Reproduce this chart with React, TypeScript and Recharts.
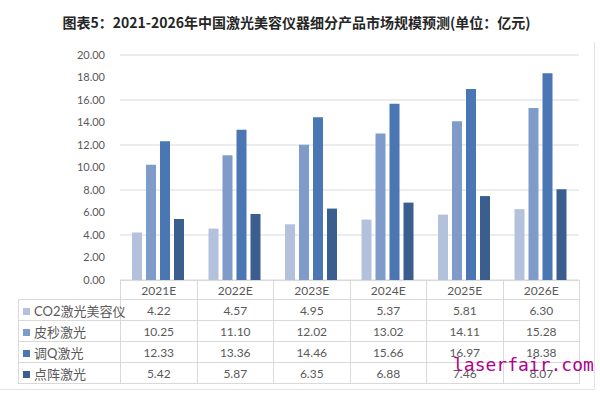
import React from 'react';
import { BarChart, Bar, XAxis, YAxis, CartesianGrid } from 'recharts';

const categories = ['2021E', '2022E', '2023E', '2024E', '2025E', '2026E'];
const co2 = [4.22, 4.57, 4.95, 5.37, 5.81, 6.3];
const picosecond = [10.25, 11.1, 12.02, 13.02, 14.11, 15.28];
const qSwitch = [12.33, 13.36, 14.46, 15.66, 16.97, 18.38];
const fractional = [5.42, 5.87, 6.35, 6.88, 7.46, 8.07];
const yTicks = [0, 2, 4, 6, 8, 10, 12, 14, 16, 18, 20];

const seriesList = [
  { key: 'co2', name: 'CO2激光美容仪', values: co2, color: '#b3c1dd' },
  { key: 'pico', name: '皮秒激光', values: picosecond, color: '#7e9bc9' },
  { key: 'q', name: '调Q激光', values: qSwitch, color: '#4a76b3' },
  { key: 'dot', name: '点阵激光', values: fractional, color: '#3a5f8f' },
];

const data = categories.map((c, i) => {
  const row: any = { name: c };
  seriesList.forEach((s) => {
    row[s.key] = s.values[i];
  });
  return row;
});

const textColor = '#595959';
const gridColor = '#d9d9d9';
const font = "Lato, 'Noto Sans CJK SC', sans-serif";

const cellStyle: React.CSSProperties = {
  border: `1px solid ${gridColor}`,
  textAlign: 'center',
  padding: 0,
  fontSize: 12,
  color: textColor,
};

export default function App() {
  return (
    <div style={{ position: 'absolute', left: 0, top: 0, width: 600, height: 398, background: '#fff', overflow: 'hidden', fontFamily: font }}>
      <div
        style={{
          position: 'absolute',
          left: 0,
          top: 12,
          width: 593,
          textAlign: 'center',
          fontFamily: "'Noto Sans CJK SC', sans-serif",
          fontWeight: 700,
          fontSize: 14,
          lineHeight: '20px',
          color: '#262626',
        }}
      >
        图表5：2021-2026年中国激光美容仪器细分产品市场规模预测(单位：亿元)
      </div>

      <div
        style={{
          position: 'absolute',
          left: 0,
          top: 42,
          width: 594,
          height: 347,
          borderRight: '1px solid #e3e3e3',
          borderBottom: '1px solid #e3e3e3',
        }}
      />

      <div style={{ position: 'absolute', left: 0, top: 0 }}>
        <BarChart
          width={600}
          height={290}
          data={data}
          margin={{ top: 55, right: 21, bottom: 10, left: 60 }}
          barSize={10}
          barGap={4}
        >
          <CartesianGrid vertical={false} stroke={gridColor} />
          <XAxis dataKey="name" hide />
          <YAxis
            width={60}
            domain={[0, 20]}
            ticks={yTicks}
            axisLine={false}
            tickLine={false}
            tickMargin={9}
            tickFormatter={(v: number) => v.toFixed(2)}
            tick={{ fill: textColor, fontSize: 11, fontFamily: font }}
          />
          {seriesList.map((s) => (
            <Bar key={s.key} dataKey={s.key} name={s.name} fill={s.color} isAnimationActive={false} />
          ))}
        </BarChart>
      </div>

      <table
        style={{
          position: 'absolute',
          left: 18,
          top: 280,
          borderCollapse: 'collapse',
          tableLayout: 'fixed',
          width: 561,
          fontFamily: font,
        }}
      >
        <colgroup>
          <col style={{ width: 102 }} />
          {categories.map((c) => (
            <col key={c} style={{ width: 76.5 }} />
          ))}
        </colgroup>
        <tbody>
          <tr style={{ height: 19 }}>
            <td style={{ padding: 0, border: 'none' }} />
            {categories.map((c) => (
              <td key={c} style={cellStyle}>
                {c}
              </td>
            ))}
          </tr>
          {seriesList.map((s) => (
            <tr key={s.key} style={{ height: 21 }}>
              <td style={{ ...cellStyle, textAlign: 'left', fontSize: 13, whiteSpace: 'nowrap', paddingLeft: 4 }}>
                <span
                  style={{
                    display: 'inline-block',
                    width: 7,
                    height: 7,
                    background: s.color,
                    marginRight: 4,
                    verticalAlign: 'middle',
                    position: 'relative',
                    top: -1,
                  }}
                />
                {s.name}
              </td>
              {s.values.map((v, i) => (
                <td key={i} style={cellStyle}>
                  {v.toFixed(2)}
                </td>
              ))}
            </tr>
          ))}
        </tbody>
      </table>

      <div
        style={{
          position: 'absolute',
          left: 453,
          top: 354,
          fontFamily: "'DejaVu Sans Mono', monospace",
          fontSize: 18,
          lineHeight: '22px',
          color: '#b0008c',
          whiteSpace: 'nowrap',
        }}
      >
        laserfair.com
      </div>
    </div>
  );
}
